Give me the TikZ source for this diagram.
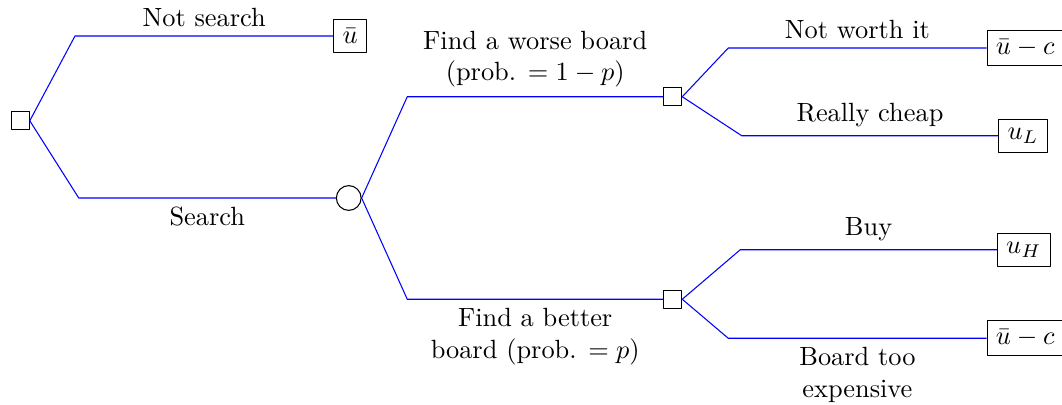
\documentclass[tikz,border=0pt]{standalone}
\usepackage{amsmath}
\usepackage{amssymb}
\usepackage{tikz}
\usetikzlibrary{positioning, calc}

\begin{document}
\begin{tikzpicture}[line join=round]
    % Styles
    \tikzset{
        branch/.style={line width=0.4pt, blue},
        decision/.style={draw, rectangle, minimum size=0.24cm, inner sep=0pt},
        chance/.style={draw, circle, minimum size=0.33cm, inner sep=0pt},
        payoff/.style={draw, rectangle},
        lbl/.style={font=\normalsize, text=black, align=center}
    }

    % Canvas (same margins as the original)
    \useasboundingbox (0,0) rectangle (14.16,-5.40);

    % --- Root decision: search or not ---
    \node[decision] (D0) at (0.27,-1.61) {};
    \coordinate (NS_bend) at (1.00,-0.48);
    \coordinate (S_bend) at (1.05,-2.64);
    \node[payoff] (U0) at (4.67,-0.48) {$\bar{u}$};
    \node[chance] (C1) at (4.65,-2.64) {};

    \draw[branch] (D0.east) -- (NS_bend) -- (U0)
        node[midway, above, lbl] {Not search};
    \draw[branch] (D0.east) -- (S_bend) -- (C1)
        node[midway, below, lbl] {Search};

    % --- Chance: worse or better board ---
    \coordinate (W_bend) at (5.43,-1.29);
    \coordinate (B_bend) at (5.43,-3.99);
    \node[decision] (D1) at (8.97,-1.29) {};
    \node[decision] (D2) at (8.97,-3.99) {};

    \draw[branch] (C1.east) -- (W_bend) -- (D1)
        node[midway, above, lbl] {Find a worse board\\(prob. $= 1-p$)};
    \draw[branch] (C1.east) -- (B_bend) -- (D2)
        node[midway, below, lbl] {Find a better\\board (prob. $= p$)};

    % --- Worse board ---
    \coordinate (NW_bend) at (9.71,-0.64);
    \coordinate (RC_bend) at (9.89,-1.81);
    \node[payoff] (U1) at (13.67,-0.64) {$\bar{u}-c$};
    \node[payoff] (U2) at (13.64,-1.81) {$u_L$};

    \draw[branch] (D1.east) -- (NW_bend) -- (U1)
        node[midway, above, lbl] {Not worth it};
    \draw[branch] (D1.east) -- (RC_bend) -- (U2)
        node[midway, above, lbl] {Really cheap};

    % --- Better board ---
    \coordinate (BY_bend) at (9.87,-3.33);
    \coordinate (TE_bend) at (9.71,-4.51);
    \node[payoff] (U3) at (13.65,-3.33) {$u_H$};
    \node[payoff] (U4) at (13.67,-4.51) {$\bar{u}-c$};

    \draw[branch] (D2.east) -- (BY_bend) -- (U3)
        node[midway, above, lbl] {Buy};
    \draw[branch] (D2.east) -- (TE_bend) -- (U4)
        node[midway, below, lbl] {Board too\\expensive};

\end{tikzpicture}
\end{document}
